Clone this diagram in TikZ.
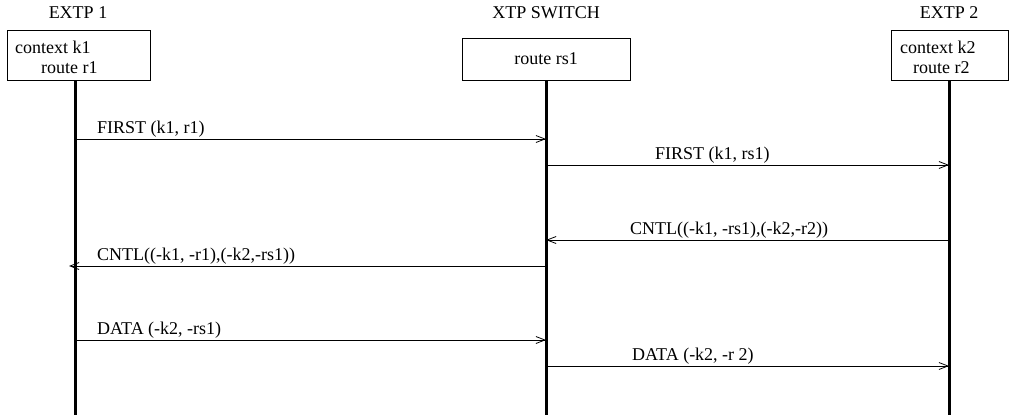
\documentclass[tikz,border=0pt]{standalone}
\usepackage{fontspec}
\setmainfont{Liberation Serif}
\usetikzlibrary{arrows.meta}

\tikzset{
  entity/.style={draw, line width=0.8pt, minimum height=50pt, inner sep=0pt},
  lifeline/.style={line width=3pt},
  msg/.style={line width=0.8pt, -{Straight Barb[length=9pt,width=7pt,line width=0.8pt]}},
  msglabel/.style={anchor=south west, inner sep=1pt}
}

\begin{document}
\begin{tikzpicture}[x=1pt, y=-1pt, font=\fontsize{18}{20}\selectfont]
  % bounding box of the picture
  \path[use as bounding box] (0,0) rectangle (1011,418);

  % titles
  \node (t1) at (78,13) {EXTP 1};
  \node (t2) at (546,13) {XTP SWITCH};
  \node (t3) at (949,13) {EXTP 2};

  % entity boxes
  \node[entity, minimum width=143pt] (b1) at (78.5,55) {};
  \node[entity, minimum width=168pt, minimum height=42pt] (b2) at (546,59) {};
  \node[entity, minimum width=117pt] (b3) at (950,55) {};
  \node[anchor=west, align=left, inner sep=0pt] (c1) at (15,57)
    {context k1\\\hspace*{26pt}route r1};
  \node (c2) at (546,59) {route rs1};
  \node[anchor=west, align=left, inner sep=0pt] (c3) at (900,57)
    {context k2\\\hspace*{13pt}route r2};

  % life lines
  \coordinate (e1) at (75,415);
  \coordinate (e2) at (546,415);
  \coordinate (e3) at (949,415);
  \draw[lifeline] (b1.south -| e1) -- (e1);
  \draw[lifeline] (b2.south -| e2) -- (e2);
  \draw[lifeline] (b3.south -| e3) -- (e3);

  % messages
  \draw[msg] (e1 |- 0,139) -- (e2 |- 0,139);
  \node[msglabel] (m1) at (96,139) {FIRST (k1, r1)};

  \draw[msg] (e2 |- 0,165) -- (e3 |- 0,165);
  \node[msglabel] (m2) at (654,165) {FIRST (k1, rs1)};

  \draw[msg] (e3 |- 0,240) -- (e2 |- 0,240);
  \node[msglabel] (m3) at (629,240) {CNTL((-k1, -rs1),(-k2,-r2))};

  \draw[msg] (e2 |- 0,266) -- ([xshift=-6pt]e1 |- 0,266);
  \node[msglabel] (m4) at (96,266) {CNTL((-k1, -r1),(-k2,-rs1))};

  \draw[msg] (e1 |- 0,340) -- (e2 |- 0,340);
  \node[msglabel] (m5) at (96,340) {DATA (-k2, -rs1)};

  \draw[msg] (e2 |- 0,366) -- (e3 |- 0,366);
  \node[msglabel] (m6) at (631,366) {DATA (-k2, -r 2)};
\end{tikzpicture}
\end{document}
